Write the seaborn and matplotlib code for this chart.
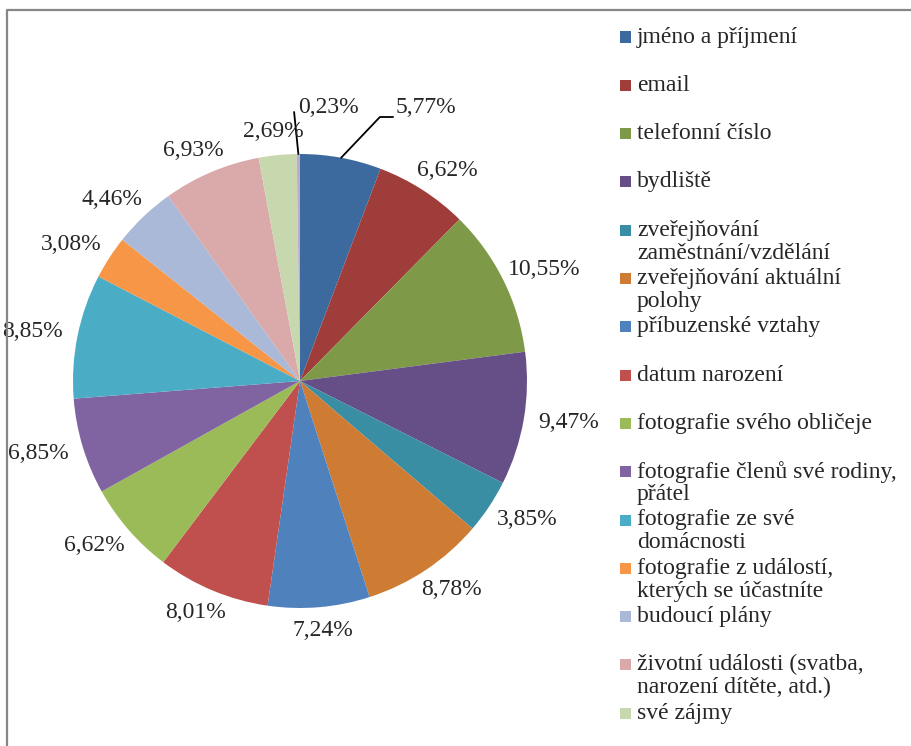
import numpy as np
import seaborn as sns
import matplotlib
matplotlib.use("Agg")
import matplotlib.pyplot as plt
from matplotlib.lines import Line2D
from matplotlib.patches import Rectangle

# data
kategorie = [
    "jméno a příjmení",
    "email",
    "telefonní číslo",
    "bydliště",
    "zveřejňování\nzaměstnání/vzdělání",
    "zveřejňování aktuální\npolohy",
    "příbuzenské vztahy",
    "datum narození",
    "fotografie svého obličeje",
    "fotografie členů své rodiny,\npřátel",
    "fotografie ze své\ndomácnosti",
    "fotografie z událostí,\nkterých se účastníte",
    "budoucí plány",
    "životní události (svatba,\nnarození dítěte, atd.)",
    "své zájmy",
    "jiné",
]
podil = [5.77, 6.62, 10.55, 9.47, 3.85, 8.78, 7.24, 8.01,
         6.62, 6.85, 8.85, 3.08, 4.46, 6.93, 2.69, 0.23]
barvy = ["#3C6A9E", "#9E3D3A", "#7E9A48", "#664E86", "#3A8EA3", "#CE7B33",
         "#4F81BD", "#C0504D", "#9BBB59", "#8064A2", "#4BACC6", "#F79646",
         "#AAB9D8", "#D9AAA9", "#C8D8AE", "#BBADCB"]

sns.set_theme(style="white")
plt.rcParams['font.family'] = ['Liberation Serif', 'DejaVu Serif']
FS = 17

W, H = 911, 746
fig = plt.figure(figsize=(W / 100, H / 100), dpi=100)
fig.patch.set_facecolor("white")

# pie centred at (300, 381) px, radius 227 px
R = 227
cx, cy = 300, 381
ax = fig.add_axes([(cx - R) / W, (H - cy - R) / H, 2 * R / W, 2 * R / H])
ax.pie(podil, colors=sns.color_palette(barvy), startangle=90, counterclock=False,
       radius=1, wedgeprops=dict(linewidth=0, antialiased=True))
ax.set_xlim(-1, 1)
ax.set_ylim(-1, 1)
ax.set_aspect("equal")
ax.axis("off")

def fmt(v):
    return f"{v:.2f}".replace(".", ",") + "%"

hw, hh = 30 / R, 10 / R
cum = 0
for i, v in enumerate(podil):
    theta = np.pi / 2 - 2 * np.pi * (cum + v / 2) / 100
    cum += v
    if i == 0:
        a = np.pi / 2 - 2 * np.pi * 0.029
        ex, ey = np.cos(a), np.sin(a)
        ax.add_line(Line2D([ex, 0.352, 0.41], [ey, 1.163, 1.163], color="black",
                           lw=1.3, clip_on=False))
        ax.text(0.42, 1.203, fmt(v), ha="left", va="center", fontsize=FS, clip_on=False)
        continue
    if i == len(podil) - 1:
        ex, ey = np.cos(theta), np.sin(theta)
        ax.add_line(Line2D([ex, -0.026], [ey, 1.185], color="black",
                           lw=1.3, clip_on=False))
        ax.text(-0.01, 1.203, fmt(v), ha="left", va="center", fontsize=FS, clip_on=False)
        continue
    c, s = np.cos(theta), np.sin(theta)
    x = 1.07 * c + hw * c
    y = 1.06 * s + hh * s
    ax.text(x, y, fmt(v), ha="center", va="center", fontsize=FS, clip_on=False)

# legend drawn by hand (Excel layout, last entry falls off the chart area)
for i, (lab, col) in enumerate(zip(kategorie, barvy)):
    y0 = 37 + 48.3 * i
    if y0 > H - 20:
        break
    fig.add_artist(Rectangle((620 / W, 1 - (y0 + 5.5) / H), 11 / W, 11 / H,
                             transform=fig.transFigure, facecolor=col,
                             edgecolor="none"))
    for k, line in enumerate(lab.split("\n")):
        fig.text(637 / W, 1 - (y0 + 23 * k) / H, line, ha="left", va="center",
                 fontsize=FS)

# chart-area border (top and left visible)
fig.add_artist(Line2D([7 / W, 7 / W, 1], [0, 1 - 10 / H, 1 - 10 / H],
                      transform=fig.transFigure, color="#878787", lw=1.6))

fig.savefig("out.png", dpi=100)
